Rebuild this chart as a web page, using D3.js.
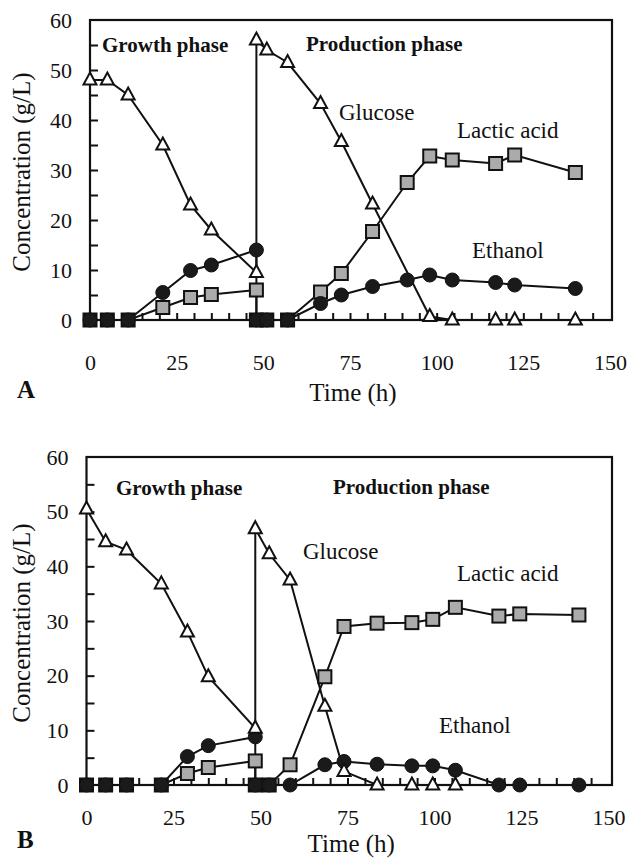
<!DOCTYPE html>
<html>
<head>
<meta charset="utf-8">
<script src="https://cdn.jsdelivr.net/npm/d3@7"></script>
<style>
  html, body { margin: 0; padding: 0; background: #fff; }
  svg { display: block; }
  text { font-family: "Liberation Serif", "Times New Roman", serif; fill: #111; }
</style>
</head>
<body>
<svg id="chart" width="631" height="859"></svg>
<script>
// Batch fermentation: growth phase, glucose feed at ~48 h, then production phase.
// Panel A sampling times (h); the feed point appears twice (before / after feeding).
const timeA    = [0, 5, 11, 21, 29, 35, 48, 48, 51, 57, 66.5, 72.5, 81.5, 91.5, 98, 104.5, 117, 122.5, 140];
const glucoseA = [48, 48, 45, 35, 23, 18, 9.5, 56, 54, 51.5, 43.3, 35.7, 23.2, null, 0.7, 0, 0, 0, 0];
const lacticA  = [0, 0, 0, 2.5, 4.5, 5.1, 6, 0, 0, 0, 5.6, 9.3, 17.7, 27.5, 32.8, 32, 31.3, 33, 29.5];
const ethanolA = [0, 0, 0, 5.5, 9.9, 11, 14, 0, 0, 0, 3.3, 5, 6.7, 8, 9, 8, 7.5, 7, 6.3];

// Panel B sampling times (h)
const timeB    = [0, 5.5, 11.5, 21.5, 29, 35, 48.5, 48.5, 52.5, 58.5, 68.5, 74, 83.5, 93.5, 99.5, 106, 118.5, 124.5, 141.5];
const glucoseB = [50.5, 44.5, 43, 36.8, 28, 19.8, 10.4, 46.9, 42.3, 37.5, 14.4, 2.5, 0, 0, 0, 0, null, null, null];
const lacticB  = [0, 0, 0, 0, 2.1, 3.2, 4.4, 0, 0, 3.7, 19.8, 29, 29.6, 29.7, 30.3, 32.5, 30.9, 31.3, 31.1];
const ethanolB = [0, 0, 0, 0, 5.2, 7.2, 8.8, 0, 0, 0, 3.7, 4.3, 3.8, 3.5, 3.5, 2.7, 0, 0, 0];

// Axis ticks
const xTickLabels = [0, 25, 50, 75, 100, 125, 150];
const yTickLabels = [0, 10, 20, 30, 40, 50, 60];
const xMinorTicks = d3.range(5, 150, 5);
const yMinorTicks = d3.range(5, 60, 5);

const svg = d3.select("#chart");

function triPath(cx, cy) {
  const w = 13, h = 12;
  return `M${cx},${cy - h * 0.62}L${cx + w / 2},${cy + h * 0.38}L${cx - w / 2},${cy + h * 0.38}Z`;
}

function drawPanel(cfg) {
  const x = d3.scaleLinear().domain([0, 150]).range([cfg.left, cfg.right]);
  const y = d3.scaleLinear().domain([0, 60]).range([cfg.bottom, cfg.top]);
  const g = svg.append("g");

  // frame
  g.append("rect")
    .attr("x", x(0)).attr("y", y(60))
    .attr("width", cfg.frameRight - x(0)).attr("height", y(0) - y(60))
    .attr("fill", "none").attr("stroke", "#111").attr("stroke-width", 2.2);

  // inward minor ticks
  const xt = g.append("g").attr("transform", `translate(0,${y(0)})`)
    .call(d3.axisBottom(x).tickValues(xMinorTicks).tickSize(-7).tickFormat(""));
  const yt = g.append("g").attr("transform", `translate(${x(0)},0)`)
    .call(d3.axisLeft(y).tickValues(yMinorTicks).tickSize(-8).tickFormat(""));
  [xt, yt].forEach(a => {
    a.select(".domain").remove();
    a.selectAll("line").attr("stroke", "#111").attr("stroke-width", 2);
  });

  // tick labels
  const xl = g.append("g").attr("transform", `translate(0,${y(0)})`)
    .call(d3.axisBottom(x).tickValues(xTickLabels).tickSize(0).tickPadding(cfg.xPad));
  const yl = g.append("g").attr("transform", `translate(${x(0)},0)`)
    .call(d3.axisLeft(y).tickValues(yTickLabels).tickSize(0).tickPadding(18));
  [xl, yl].forEach(a => {
    a.select(".domain").remove();
    a.selectAll("text").attr("font-size", 22)
      .attr("font-family", "Liberation Serif, Times New Roman, serif").attr("fill", "#111");
  });

  // axis titles
  g.append("text").attr("x", (x(0) + cfg.frameRight) / 2 + 2).attr("y", cfg.timeBaseline)
    .attr("text-anchor", "middle").attr("font-size", 25).text("Time (h)");
  g.append("text")
    .attr("transform", `translate(${30},${(y(0) + y(60)) / 2 + 2}) rotate(-90)`)
    .attr("text-anchor", "middle").attr("font-size", 25).text("Concentration (g/L)");
  g.append("text").attr("x", 17).attr("y", cfg.letterBaseline)
    .attr("font-size", 25).attr("font-weight", "bold").text(cfg.letter);

  const rows = (vals) => cfg.time.map((t, i) => ({ t, v: vals[i] })).filter(d => d.v !== null);
  const line = d3.line().x(d => x(d.t)).y(d => y(d.v));

  const gluc = rows(cfg.glucose), lac = rows(cfg.lactic), eth = rows(cfg.ethanol);

  // series lines
  [gluc, lac, eth].forEach(data => {
    g.append("path").datum(data).attr("d", line)
      .attr("fill", "none").attr("stroke", "#111").attr("stroke-width", 2);
  });

  // lactic acid: shaded squares
  g.selectAll(null).data(lac).join("rect")
    .attr("x", d => x(d.t) - 6.5).attr("y", d => y(d.v) - 6.5)
    .attr("width", 13).attr("height", 13)
    .attr("fill", d => d.v === 0 ? "#1a1a1a" : "#ababab")
    .attr("stroke", "#111").attr("stroke-width", 2);

  // ethanol: filled circles
  g.selectAll(null).data(eth).join("circle")
    .attr("cx", d => x(d.t)).attr("cy", d => y(d.v)).attr("r", 7)
    .attr("fill", "#1a1a1a").attr("stroke", "#111").attr("stroke-width", 1);

  // glucose: open triangles
  g.selectAll(null).data(gluc).join("path")
    .attr("d", d => triPath(x(d.t), y(d.v)))
    .attr("fill", "#fff").attr("stroke", "#111").attr("stroke-width", 2).attr("stroke-linejoin", "miter");

  // annotations
  const labels = cfg.labels;
  labels.forEach(l => {
    g.append("text").attr("x", l.x).attr("y", l.y)
      .attr("font-size", l.bold ? 21 : 23)
      .attr("font-weight", l.bold ? "bold" : "normal").text(l.text);
  });
}

drawPanel({
  left: 90, right: 610, frameRight: 612, top: 20, bottom: 320,
  xPad: 34, timeBaseline: 401, letterBaseline: 398, letter: "A",
  time: timeA, glucose: glucoseA, lactic: lacticA, ethanol: ethanolA,
  labels: [
    { text: "Growth phase", x: 102, y: 52, bold: true },
    { text: "Production phase", x: 306, y: 51, bold: true },
    { text: "Glucose", x: 339, y: 120 },
    { text: "Lactic acid", x: 457, y: 138 },
    { text: "Ethanol", x: 472, y: 258 }
  ]
});

drawPanel({
  left: 86.5, right: 608.5, frameRight: 612, top: 457, bottom: 785,
  xPad: 24, timeBaseline: 852, letterBaseline: 848, letter: "B",
  time: timeB, glucose: glucoseB, lactic: lacticB, ethanol: ethanolB,
  labels: [
    { text: "Growth phase", x: 116, y: 495, bold: true },
    { text: "Production phase", x: 333, y: 494, bold: true },
    { text: "Glucose", x: 303, y: 559 },
    { text: "Lactic acid", x: 457, y: 581 },
    { text: "Ethanol", x: 439, y: 733 }
  ]
});
</script>
</body>
</html>
